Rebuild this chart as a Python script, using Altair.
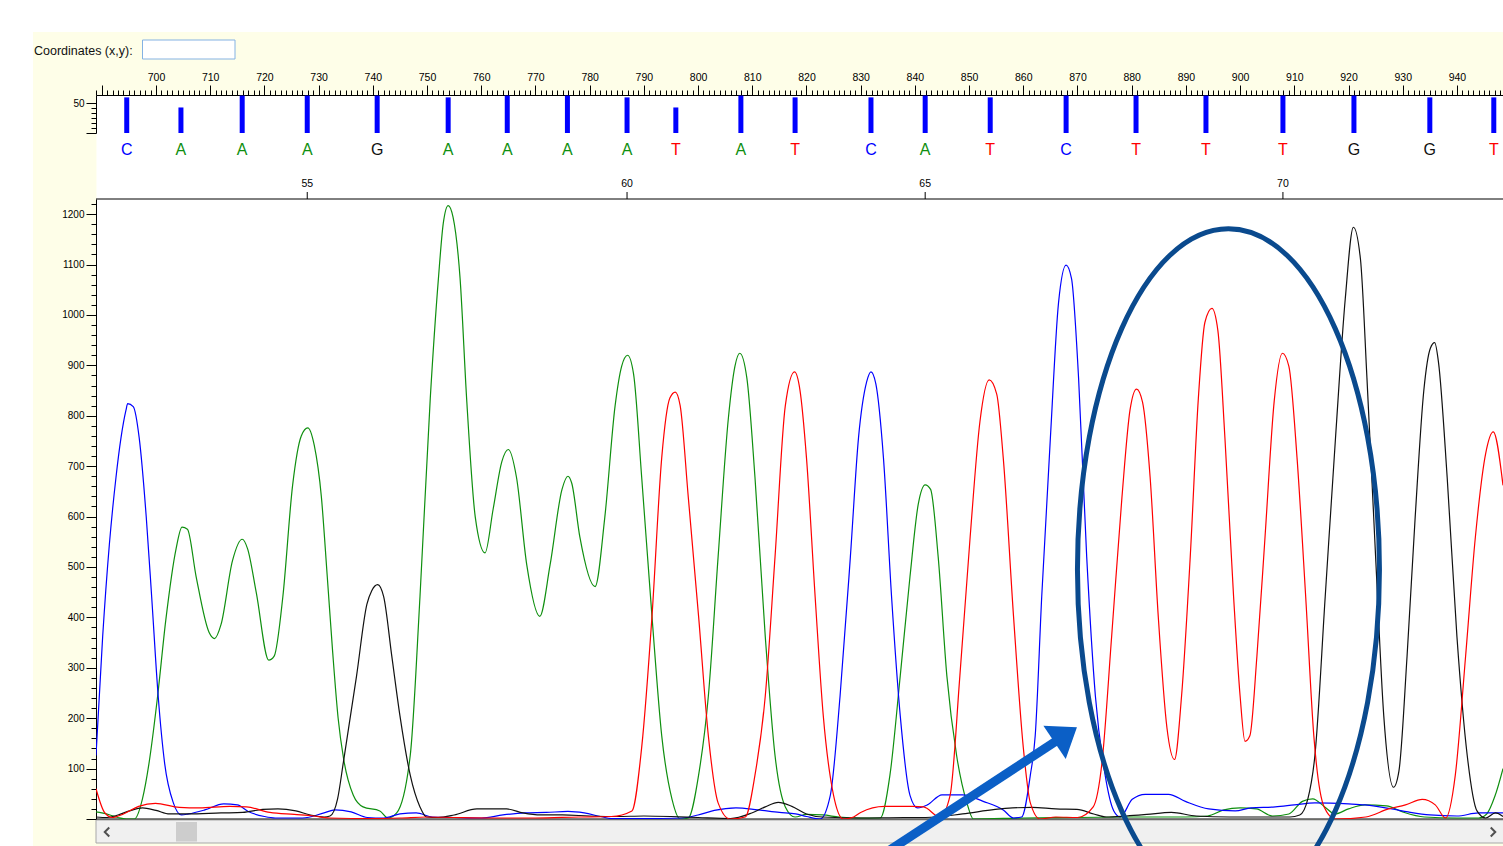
import altair as alt
import pandas as pd

FONT = "Liberation Sans"

# ---------------- data ----------------
SCAN_RANGE = [688.93, 948.5]          # scan numbers visible in the window
SIGNAL_RANGE = [0, 1230]              # trace intensity visible in the main pane
QV_RANGE = [0, 64]                    # quality-value pane

BASES = list("CAAAGAAAATATCATCTTTGGT")
BASE_SCAN = [694.6, 704.6, 715.9, 727.9, 740.8, 753.9, 764.8, 775.9, 786.9, 795.9, 807.9,
             817.9, 831.9, 841.9, 853.9, 867.9, 880.8, 893.7, 907.9, 921.0, 935.0, 946.8]
BASE_QV = [60, 43, 63, 63, 63, 60, 63, 63, 60, 43, 63, 60, 60, 63, 60, 63, 63, 63, 63, 63, 60, 60]
FIRST_BASE_NUMBER = 52

TRACE_C = [(688.93, 126), (690.16, 362), (691.39, 544), (692.62, 678), (693.54, 756), (694.46, 811),
           (694.77, 824), (695.8, 818), (696.9, 756), (698.2, 599), (699.2, 441), (700.4, 244),
           (701.6, 110), (703.2, 32), (704.7, 8), (706, 10), (709, 18), (712.5, 30), (715, 28),
           (717, 15), (720, 5), (722, 2), (727, 2), (731, 12), (733, 18), (736, 14), (739, 3),
           (742, 2), (745, 10), (748, 12), (751, 4), (755, 3), (760, 2), (764, 8), (768, 12),
           (772, 13), (776, 15), (779, 12), (782, 5), (784, 1), (790, 1), (797, 2), (800, 8),
           (803, 17), (807, 22), (811, 18), (815, 13), (818, 10), (820, 5), (822.5, 0), (824.4, 47),
           (826.2, 244), (828.1, 520), (829.6, 756), (831.1, 867), (831.9, 887), (832.8, 863),
           (834.2, 717), (835.7, 441), (837.3, 205), (839.1, 47), (840.5, 22), (842.3, 28),
           (845, 48), (848.8, 48), (852.6, 35), (856.3, 18), (858.2, 2), (859.7, 4), (861.3, 87),
           (862.2, 165), (863.4, 441), (865.0, 756), (866.5, 1024), (867.9, 1099), (868.9, 1072),
           (870.2, 875), (871.7, 520), (873.3, 244), (875.1, 87), (876.7, 16), (877.9, 4),
           (880.1, 39), (882.5, 49), (886.8, 49), (889.9, 35), (894.2, 20), (899.1, 16), (902, 22),
           (906.5, 24), (910, 28), (913.8, 32), (920, 30), (923.1, 28), (928, 20), (931, 14),
           (935, 8), (940, 6), (944, 12), (948.5, 12)]

TRACE_A = [(688.93, 14), (690, 12), (691.5, 8), (693, 3), (694.5, 0), (696, 0), (697.5, 40),
           (698.7, 110), (700.3, 244), (701.8, 394), (703.7, 536), (704.8, 579), (705.8, 575),
           (707.4, 481), (709.8, 370), (710.8, 358), (712.0, 386), (714.1, 512), (715.9, 555),
           (716.9, 536), (718.5, 449), (720.8, 315), (721.8, 323), (723.4, 441), (725.2, 662),
           (726.8, 760), (728.0, 776), (729.2, 741), (730.5, 640), (731.6, 480), (732.6, 330),
           (733.6, 200), (734.6, 120), (736.4, 47), (738.2, 24), (741.3, 16), (742.8, 2),
           (744.4, 12), (746.9, 126), (748.7, 441), (750.6, 835), (752.1, 1072), (753.0, 1182),
           (753.9, 1217), (754.8, 1194), (756.1, 1072), (757.3, 835), (758.9, 599), (760.7, 528),
           (762.2, 615), (763.8, 709), (765.0, 733), (766.5, 678), (768.4, 504), (770.8, 402),
           (772.7, 504), (774.9, 654), (776.0, 680), (776.7, 666), (778.2, 559), (781.0, 461),
           (782.8, 599), (784.7, 820), (785.9, 898), (787.0, 920), (788.1, 883), (789.6, 678),
           (791.5, 402), (793.3, 165), (795.2, 39), (796.7, 0), (798.2, 2), (800.1, 87),
           (801.9, 244), (803.7, 520), (805.6, 796), (806.8, 898), (807.7, 924), (809.0, 875),
           (810.5, 678), (812.4, 362), (814.2, 126), (816.1, 24), (817.9, 4), (820, 9), (823, 8),
           (826, 4), (830, 2), (833.6, 2), (835.4, 87), (837.3, 284), (839.1, 481), (840.6, 623),
           (841.9, 663), (842.9, 654), (844.3, 520), (845.9, 284), (847.7, 126), (849.6, 32),
           (850.8, 0), (860, 2), (870, 3), (880, 4), (890, 4), (894, 6), (897, 18), (900, 22),
           (903, 20), (906, 6), (909, 10), (911.5, 35), (913.4, 40), (915.5, 25), (917.5, 10),
           (920, 20), (923, 28), (927, 26), (930, 14), (934, 4), (940, 2), (944, 2), (945.5, 10),
           (947, 45), (948.5, 100)]

TRACE_G = [(688.93, 4), (691, 3), (693, 8), (695.1, 16), (697.5, 22), (700, 17), (702.5, 10),
           (706, 10), (712, 12), (716, 13), (719.7, 19), (722.5, 20), (725.8, 16), (728.5, 8),
           (731, 4), (732.1, 6), (733.5, 40), (734.6, 115), (737.0, 284), (738.9, 426),
           (739.8, 453), (740.9, 465), (742.0, 441), (743.5, 323), (745.0, 205), (746.9, 87),
           (748.7, 24), (749.9, 4), (752, 3), (755, 8), (759.2, 20), (764.7, 20), (767.7, 12),
           (771, 8), (775, 8), (780, 6), (785, 5), (790, 6), (795, 5), (800, 3), (806, 1),
           (809.9, 12), (812.4, 24), (814.8, 33), (817.3, 25), (820, 10), (823, 4), (830, 2),
           (838, 3), (842, 3), (848.8, 10), (854.8, 19), (858, 22), (861.6, 23), (866, 20),
           (869.9, 19), (873, 10), (875.3, 4), (879, 6), (882.8, 9), (887.3, 13), (891.9, 6),
           (898, 4), (904, 4), (909.2, 4), (911, 8), (912.5, 40), (913.8, 126), (915.7, 441),
           (917.6, 756), (919.4, 1032), (920.9, 1174), (922.2, 1111), (923.4, 875), (925.0, 520),
           (926.5, 205), (928.3, 63), (929.3, 95), (930.8, 323), (932.3, 599), (933.9, 851),
           (935.1, 934), (935.9, 945), (936.6, 906), (938.2, 678), (940.0, 362), (941.9, 126),
           (943.7, 16), (945.3, 2), (947.1, 12), (948.5, 5)]

TRACE_T = [(688.93, 60), (690.5, 13), (691.9, 3), (694, 10), (696.8, 25), (699.9, 31), (704.3, 23),
           (708, 22), (713.6, 25), (716.7, 24), (721, 13), (725.5, 9), (729, 6), (732, 2),
           (740, 1), (745, 2), (750, 4), (755, 3), (762, 2), (770, 2), (778, 4), (784, 5),
           (787.8, 16), (789.6, 142), (791.5, 402), (793.3, 717), (794.8, 835), (795.8, 847),
           (796.7, 820), (798.2, 638), (800.1, 402), (801.9, 165), (803.7, 32), (805.9, 0),
           (808.7, 4), (810.5, 87), (812.4, 244), (814.2, 520), (816.1, 820), (817.8, 887),
           (818.8, 851), (820.0, 717), (821.6, 441), (823.1, 205), (825.0, 47), (826.8, 0),
           (828.7, 4), (830, 13), (834.4, 25), (839.6, 25), (841.6, 24), (844.6, 4), (846.5, 47),
           (848.3, 284), (850.2, 560), (852.0, 788), (853.7, 871), (855.1, 843), (856.3, 717),
           (858.2, 402), (860.0, 142), (861.3, 32), (863.1, 0), (866, 4), (870, 3), (872.9, 24),
           (874.5, 110), (876.3, 362), (878.2, 638), (879.7, 812), (880.9, 853), (882.0, 827),
           (883.4, 678), (884.9, 402), (886.5, 181), (887.9, 118), (889.2, 244), (890.8, 520),
           (892.3, 835), (893.5, 985), (894.8, 1013), (895.9, 969), (897.2, 756), (898.8, 441),
           (900.0, 244), (900.9, 154), (901.8, 165), (903.1, 323), (904.6, 560), (906.3, 830),
           (907.8, 924), (909.0, 898), (910.5, 717), (912.1, 441), (913.6, 165), (915.5, 24),
           (917.6, 0), (923.2, 4), (927.4, 20), (930.5, 28), (933.6, 39), (936.0, 28), (937.9, 2),
           (939.7, 87), (941.6, 323), (943.4, 559), (945.3, 725), (946.7, 768), (948.5, 662)]

# annotations (in data units: scan, signal)
ELLIPSE_CENTER = {"scan": 897.85, "signal": 494.5}
ARROW = {"scan0": 833.56, "signal0": -74.3, "scan1": 866.5, "signal1": 157.6,
         "tip_scan": 869.9, "tip_signal": 181.9}

# ---------------- layout / style ----------------
PLOT_W, PLOT_H = 1407, 724
MAIN_TOP, MAIN_BOTTOM = 104, 724
QV_BOTTOM = 38
BG = "#fefee8"
DYE_COLORS = alt.Scale(domain=["A", "C", "G", "T"],
                       range=["#0f8f0f", "#0000ff", "#111111", "#ff0000"])
ELLIPSE_COLOR = "#0a4a8e"
ARROW_COLOR = "#0b5fc6"
ELLIPSE_PATH = ("M0,-1 C0.2446,-1 0.4428,-0.5523 0.4428,0 C0.4428,0.5523 0.2446,1 0,1 "
                "C-0.2446,1 -0.4428,0.5523 -0.4428,0 C-0.4428,-0.5523 -0.2446,-1 0,-1 Z")
HEAD_PATH = "M0,0 L-0.74,1 L0.74,1 Z"

XS = alt.Scale(domain=SCAN_RANGE, range=[0, PLOT_W], nice=False, zero=False)
YM = alt.Scale(domain=SIGNAL_RANGE, range=[MAIN_BOTTOM, MAIN_TOP], nice=False, zero=False)
YQ = alt.Scale(domain=QV_RANGE, range=[QV_BOTTOM, 0], nice=False, zero=False)

ruler_major = alt.Axis(orient="top", values=list(range(690, 950, 10)), format="d",
                       labelExpr="datum.value >= 700 ? datum.label : ''", tickSize=10,
                       labelPadding=3, labelFontSize=10.5, domain=False, title=None, grid=False,
                       labelFlush=False, labelOverlap=False)
ruler_minor = alt.Axis(orient="top", values=list(range(689, 949)), tickSize=5, labels=False,
                       domain=True, title=None, grid=False)
signal_major = alt.Axis(orient="left", values=list(range(0, 1300, 100)), format="d",
                        labelExpr="datum.value > 0 ? datum.label : ''", tickSize=10,
                        labelPadding=2, labelFontSize=10, domain=True, title=None, grid=False,
                        labelFlush=False, labelOverlap=False)
signal_minor = alt.Axis(orient="left", values=[v for v in range(20, 1240, 20) if v % 100],
                        tickSize=5, labels=False, domain=False, title=None, grid=False)
qv_major = alt.Axis(orient="left", values=[0, 50], format="d",
                    labelExpr="datum.value == 50 ? datum.label : ''", tickSize=10,
                    labelPadding=2, labelFontSize=10, domain=True, title=None, grid=False,
                    labelFlush=False)
qv_minor = alt.Axis(orient="left", values=[8.33, 16.67, 25, 33.33, 41.67], tickSize=5,
                    labels=False, domain=False, title=None, grid=False)

# ---------------- tables ----------------
rows = []
for dye, pts in (("A", TRACE_A), ("C", TRACE_C), ("G", TRACE_G), ("T", TRACE_T)):
    for s, v in pts:
        rows.append({"dye": dye, "scan": s, "signal": v})
traces_df = pd.DataFrame(rows)

base_df = pd.DataFrame({"base": BASES, "scan": BASE_SCAN, "qv": BASE_QV})
base_df["qv0"] = 0
base_df["number"] = [FIRST_BASE_NUMBER + i for i in range(len(BASES))]
num_df = base_df[base_df["number"] % 5 == 0]

one = pd.DataFrame({"k": [0]})
anchor = pd.DataFrame({"scan": [SCAN_RANGE[0]], "signal": [0], "qv": [0]})


def box(x, x2, y, y2, **kw):
    return alt.Chart(one).mark_rect(**kw).encode(
        x=alt.value(x), x2=alt.value(x2), y=alt.value(y), y2=alt.value(y2))


def hline(y):
    return alt.Chart(one).mark_rule(color="black", strokeWidth=1).encode(
        x=alt.value(0), x2=alt.value(PLOT_W), y=alt.value(y))


# window chrome
white_top = box(-96, PLOT_W, -95, -63, fill="white")
white_left = box(-96, -63, -95, 751, fill="white")
input_box = box(46.5, 139, -55, -36, fill="white", stroke="#84b2e3", strokeWidth=1)
coord_text = alt.Chart(one).mark_text(
    text="Coordinates (x,y):", align="left", baseline="middle", font=FONT, fontSize=12.5,
    color="#111111").encode(x=alt.value(-62), y=alt.value(-44))
scroll = box(0, PLOT_W + 5, 725, 748, fill="#f0f0f0", stroke="#a8a8a8", strokeWidth=1)
thumb = box(80, 101, 727, 746.5, fill="#cdcdcd")
chev_l = alt.Chart(one).mark_point(shape="M0.5,-1 L-0.5,0 L0.5,1", size=81, filled=False,
                                   stroke="#505050", strokeWidth=2, opacity=1).encode(
    x=alt.value(11), y=alt.value(737))
chev_r = alt.Chart(one).mark_point(shape="M-0.5,-1 L0.5,0 L-0.5,1", size=81, filled=False,
                                   stroke="#505050", strokeWidth=2, opacity=1).encode(
    x=alt.value(1397), y=alt.value(737))

# base-call pane
bars = alt.Chart(base_df).mark_rule(color="#0000ff", strokeWidth=5).encode(
    x=alt.X("scan:Q", scale=XS, axis=None),
    y=alt.Y("qv:Q", scale=YQ, axis=qv_major),
    y2="qv0:Q")
qv_minor_layer = alt.Chart(anchor).mark_point(opacity=0).encode(
    x=alt.X("scan:Q", scale=XS, axis=None),
    y=alt.Y("qv:Q", scale=YQ, axis=qv_minor))
letters = alt.Chart(base_df).mark_text(font=FONT, fontSize=16, baseline="middle").encode(
    x=alt.X("scan:Q", scale=XS, axis=None),
    y=alt.value(55),
    text="base:N",
    color=alt.Color("base:N", scale=DYE_COLORS, legend=None))
num_ticks = alt.Chart(num_df).mark_rule(color="black", strokeWidth=1).encode(
    x=alt.X("scan:Q", scale=XS, axis=None), y=alt.value(97), y2=alt.value(104))
num_labels = alt.Chart(num_df).mark_text(font=FONT, fontSize=10.5, baseline="middle",
                                         color="black").encode(
    x=alt.X("scan:Q", scale=XS, axis=None), y=alt.value(88.5),
    text=alt.Text("number:Q", format="d"))

# main traces
traces = alt.Chart(traces_df).mark_line(strokeWidth=1.2, interpolate="monotone",
                                        clip=True).encode(
    x=alt.X("scan:Q", scale=XS, axis=ruler_major),
    y=alt.Y("signal:Q", scale=YM, axis=signal_major),
    color=alt.Color("dye:N", scale=DYE_COLORS, legend=None))
minor_axes = alt.Chart(anchor).mark_point(opacity=0).encode(
    x=alt.X("scan:Q", scale=XS, axis=ruler_minor),
    y=alt.Y("signal:Q", scale=YM, axis=signal_minor))

# annotations
ellipse = alt.Chart(pd.DataFrame([ELLIPSE_CENTER])).mark_point(
    shape=ELLIPSE_PATH, size=465124, filled=False, stroke=ELLIPSE_COLOR, strokeWidth=5,
    opacity=1).encode(
    x=alt.X("scan:Q", scale=XS, axis=None),
    y=alt.Y("signal:Q", scale=YM, axis=None))
arrow_df = pd.DataFrame([ARROW])
shaft = alt.Chart(arrow_df).mark_rule(color=ARROW_COLOR, strokeWidth=9, strokeCap="butt").encode(
    x=alt.X("scan0:Q", scale=XS, axis=None), x2="scan1:Q",
    y=alt.Y("signal0:Q", scale=YM, axis=None), y2="signal1:Q")
head = alt.Chart(arrow_df).mark_point(shape=HEAD_PATH, size=2916, angle=56, filled=True,
                                      fill=ARROW_COLOR, strokeWidth=0, opacity=1).encode(
    x=alt.X("tip_scan:Q", scale=XS, axis=None),
    y=alt.Y("tip_signal:Q", scale=YM, axis=None))

chart = alt.layer(
    white_top, white_left, input_box, coord_text, scroll, thumb, chev_l, chev_r,
    bars, qv_minor_layer, letters, num_ticks, num_labels,
    hline(MAIN_TOP), hline(MAIN_BOTTOM),
    traces, minor_axes, ellipse, shaft, head,
).resolve_scale(x="independent", y="independent").resolve_axis(
    x="independent", y="independent"
).properties(
    width=PLOT_W, height=PLOT_H,
    padding={"left": 96, "top": 95, "right": 0, "bottom": 27},
    autosize=alt.AutoSizeParams(type="none"),
).configure(background=BG).configure_view(fill="white", stroke="transparent").configure_axis(
    labelFont=FONT, labelColor="black", tickColor="black", domainColor="black",
    tickWidth=1, domainWidth=1)

chart.save("out.html", embed_options={"renderer": "svg", "actions": False})
